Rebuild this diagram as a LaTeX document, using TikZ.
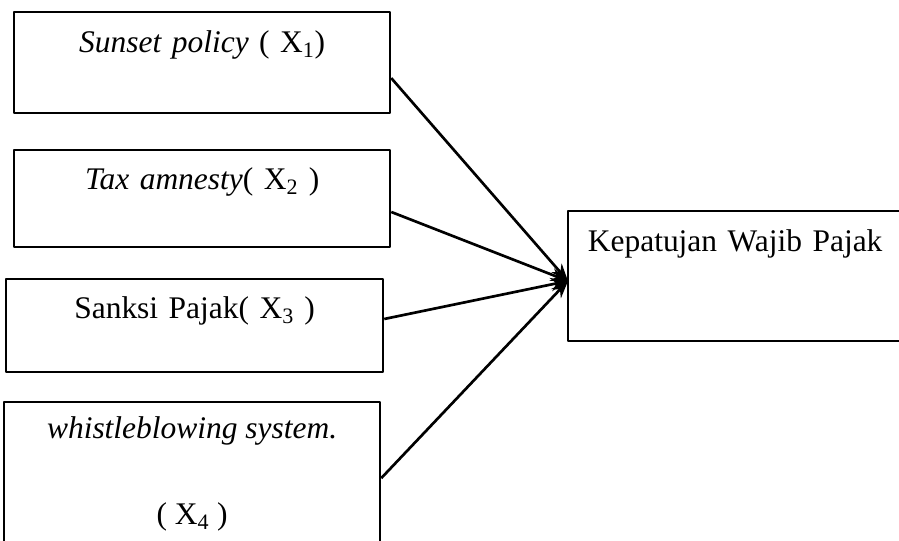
\documentclass[tikz,border=0pt]{standalone}
\usepackage{fontspec}
\setmainfont{Liberation Serif}
\usetikzlibrary{arrows.meta}
\tikzset{
  kotak/.style={draw, line width=1.7pt, inner sep=0pt, anchor=north west, align=center},
}
\begin{document}
\begin{tikzpicture}[x=0.75pt, y=-0.75pt, >={Stealth[length=13pt,width=10pt]}, font=\fontsize{23.6}{28}\selectfont, line join=round]
    \useasboundingbox (0,0) rectangle (899,540);
    % variabel bebas
    \node[kotak, text width=282pt, text height=30pt, text depth=45.75pt] (sp) at (13,11)
        {\textit{Sunset policy} ( X\textsubscript{1})};
    \node[kotak, text width=282pt, text height=29.25pt, text depth=43.5pt] (ta) at (13,149)
        {\textit{Tax amnesty}( X\textsubscript{2} )};
    \node[kotak, text width=282.75pt, text height=29.25pt, text depth=40.5pt] (sk) at (5,278)
        {Sanksi Pajak( X\textsubscript{3} )};
    \node[kotak, align=none, text height=27pt, text depth=87pt] (wb) at (3,401)
        {\parbox[t]{282pt}{\centering\textit{whistleblowing system.}\\[36.5pt]( X\textsubscript{4} )}};
    % variabel terikat
    \node[kotak, text width=250.5pt, text height=30pt, text depth=67.5pt] (kwp) at (567,210)
        {Kepatujan Wajib Pajak};
    \coordinate (hub) at (568,281);
    \foreach \n/\s in {sp/-11.6, ta/-10, sk/5, wb/0}
        \draw[->, line width=2pt] ([yshift=\s pt]\n.east) -- (hub);
\end{tikzpicture}
\end{document}
